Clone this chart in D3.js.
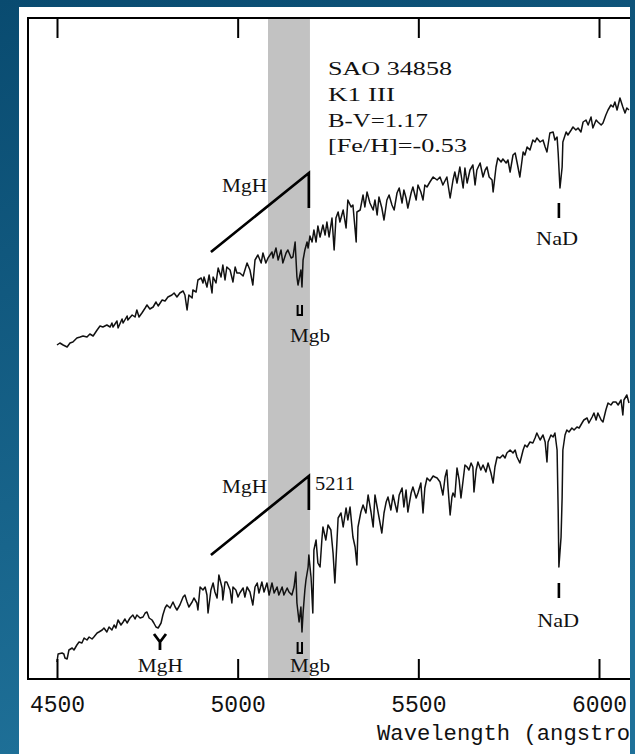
<!DOCTYPE html>
<html><head><meta charset="utf-8">
<script src="https://cdn.jsdelivr.net/npm/d3@7"></script>
<style>html,body{margin:0;padding:0;background:#0b5176;} svg{display:block}</style>
</head><body>
<svg id="c" width="635" height="754"></svg>
<script>
// ---------------- DATA ----------------
const tickValues = [4500, 5000, 5500, 6000];
const xLabel = "Wavelength (angstroms)";
const starInfo = ["SAO 34858", "K1 III", "B-V=1.17", "[Fe/H]=-0.53"];
const bandRange = [5084, 5200];           // shaded MgH/Mgb window (angstrom)
const mgbWave = 5172, nadWave = 5889, mghBandWave = 4785;
const mghSlopeWave = [4926, 5197];

const topWave = [4500,4508,4517,4528,4536,4544,4555,4564,4572,4583,4591,4600,4611,4619,4627,4638,4647,4652,4655,4666,4669,4680,4683,4694,4696,4708,4716,4721,4727,4735,4744,4749,4757,4766,4774,4780,4791,4799,4807,4818,4824,4832,4840,4849,4854,4860,4865,4874,4876,4885,4890,4899,4904,4907,4915,4921,4929,4932,4940,4946,4954,4959,4965,4970,4979,4987,4993,4998,5006,5015,5026,5034,5042,5048,5056,5065,5070,5078,5084,5095,5098,5106,5112,5120,5125,5134,5139,5148,5153,5159,5164,5167,5175,5178,5181,5186,5192,5195,5200,5206,5211,5217,5222,5228,5236,5242,5247,5253,5261,5267,5272,5278,5283,5292,5300,5305,5314,5319,5328,5330,5339,5347,5352,5358,5366,5375,5380,5386,5391,5399,5405,5413,5419,5427,5433,5441,5447,5455,5460,5466,5471,5480,5485,5494,5499,5507,5513,5518,5524,5532,5541,5552,5560,5568,5579,5588,5596,5601,5607,5615,5624,5629,5635,5643,5651,5657,5662,5671,5679,5685,5690,5696,5704,5707,5715,5720,5729,5734,5743,5748,5754,5762,5768,5773,5781,5790,5795,5801,5809,5817,5823,5828,5837,5845,5851,5856,5864,5873,5878,5884,5887,5892,5898,5900,5909,5914,5923,5928,5936,5942,5950,5956,5964,5970,5978,5983,5992,5997,6006,6011,6019,6025,6033,6039,6044,6050,6058,6066,6072,6077,6083];
const topFlux = [3.34,3.36,3.34,3.32,3.36,3.37,3.41,3.42,3.43,3.42,3.45,3.43,3.49,3.53,3.52,3.54,3.52,3.56,3.52,3.58,3.51,3.60,3.56,3.63,3.59,3.64,3.62,3.69,3.62,3.66,3.71,3.74,3.70,3.72,3.77,3.73,3.79,3.78,3.82,3.84,3.86,3.82,3.86,3.88,3.84,3.69,3.84,3.81,3.89,3.87,3.99,4.01,3.96,4.02,3.92,4.04,3.86,4.02,3.96,4.11,4.02,4.14,3.99,4.12,4.09,3.97,4.12,4.06,4.06,4.03,4.16,4.09,3.94,4.19,4.24,4.16,4.26,4.16,4.21,4.27,4.21,4.31,4.19,4.29,4.16,4.26,4.29,4.21,4.22,4.37,4.02,3.94,4.09,3.92,4.19,4.29,4.37,4.31,4.43,4.37,4.49,4.37,4.53,4.42,4.54,4.44,4.57,4.42,4.61,4.29,4.61,4.67,4.57,4.69,4.51,4.79,4.72,4.74,4.37,4.67,4.69,4.84,4.72,4.87,4.76,4.69,4.79,4.64,4.82,4.71,4.59,4.79,4.84,4.74,4.69,4.86,4.91,4.76,4.89,4.81,4.71,4.86,4.92,4.79,4.94,4.87,4.79,4.94,4.92,4.97,5.02,4.99,5.02,4.94,5.02,4.81,4.99,5.07,4.96,5.12,4.91,5.11,4.96,5.09,5.14,4.94,5.09,5.16,5.02,5.09,5.12,5.02,4.99,4.87,5.12,5.21,5.17,5.20,5.16,5.19,5.07,5.24,5.26,5.17,5.02,5.27,5.24,5.32,5.29,5.39,5.37,5.41,5.37,5.39,5.32,5.27,5.46,5.47,5.39,5.42,5.26,4.91,5.12,5.37,5.47,5.44,5.49,5.52,5.49,5.51,5.47,5.57,5.59,5.54,5.62,5.51,5.59,5.57,5.54,5.56,5.64,5.69,5.74,5.72,5.77,5.69,5.81,5.72,5.66,5.71,5.69];

const botWave = [4500,4503,4514,4519,4522,4528,4533,4542,4547,4555,4561,4569,4575,4583,4589,4597,4602,4611,4616,4625,4630,4638,4644,4652,4658,4663,4669,4677,4683,4688,4694,4702,4710,4716,4721,4730,4738,4744,4749,4755,4763,4768,4774,4780,4788,4793,4799,4804,4813,4821,4827,4832,4840,4849,4854,4860,4865,4874,4879,4887,4890,4896,4904,4910,4915,4918,4926,4932,4937,4943,4948,4957,4959,4965,4970,4979,4984,4987,4995,5001,5006,5015,5020,5026,5034,5042,5048,5054,5059,5067,5073,5081,5087,5095,5101,5109,5114,5123,5128,5137,5142,5150,5156,5161,5164,5170,5175,5178,5181,5186,5189,5195,5197,5203,5208,5211,5217,5222,5228,5233,5236,5244,5250,5258,5264,5269,5275,5278,5286,5292,5300,5305,5311,5319,5325,5330,5333,5341,5347,5355,5361,5369,5375,5380,5386,5394,5399,5405,5411,5416,5424,5430,5435,5441,5447,5455,5460,5466,5471,5480,5485,5494,5499,5507,5513,5518,5524,5532,5541,5546,5552,5560,5568,5574,5579,5582,5588,5593,5596,5601,5607,5613,5618,5624,5629,5635,5640,5646,5651,5654,5660,5665,5673,5679,5687,5693,5701,5707,5712,5718,5726,5734,5740,5745,5754,5762,5768,5773,5781,5790,5795,5801,5809,5817,5823,5828,5837,5845,5851,5856,5859,5867,5873,5878,5884,5887,5889,5895,5898,5900,5906,5911,5917,5925,5931,5939,5945,5953,5958,5967,5972,5981,5986,5992,5997,6006,6011,6019,6025,6033,6039,6047,6053,6061,6066,6069,6077,6083];
const botFlux = [0.17,0.25,0.26,0.25,0.21,0.20,0.29,0.31,0.29,0.34,0.37,0.36,0.41,0.39,0.42,0.40,0.42,0.46,0.47,0.49,0.51,0.47,0.52,0.49,0.54,0.51,0.59,0.54,0.57,0.60,0.56,0.61,0.64,0.60,0.64,0.61,0.62,0.66,0.67,0.61,0.59,0.56,0.52,0.51,0.56,0.64,0.71,0.74,0.71,0.77,0.72,0.69,0.74,0.82,0.84,0.77,0.72,0.77,0.81,0.76,0.69,0.92,0.89,0.92,0.84,0.66,0.89,0.96,0.87,0.81,1.04,0.91,0.79,0.97,0.97,0.89,0.76,0.92,0.89,0.82,0.86,0.91,0.82,0.92,0.87,0.74,0.92,0.96,0.86,0.97,0.87,0.96,0.84,0.96,0.86,0.92,0.84,0.92,0.84,0.91,0.87,0.84,0.92,1.07,0.76,0.57,0.72,0.47,0.66,0.89,0.99,1.12,1.24,1.02,0.66,1.29,1.39,1.16,1.12,1.39,1.52,1.39,1.54,1.49,1.26,0.96,1.39,1.61,1.66,1.52,1.71,1.59,1.72,1.42,1.32,1.14,1.52,1.67,1.74,1.66,1.84,1.67,1.52,1.84,1.72,1.56,1.46,1.66,1.77,1.82,1.69,1.84,1.76,1.67,1.84,1.91,1.72,1.89,1.67,1.86,1.92,1.81,1.86,1.96,1.66,1.91,2.01,1.98,2.03,2.02,2.01,1.97,1.84,2.02,2.09,1.92,1.64,1.82,1.86,1.82,2.11,1.99,1.81,1.99,2.14,2.12,2.09,2.16,2.12,1.87,2.09,2.17,2.09,2.14,2.07,2.16,2.06,1.96,2.12,2.22,2.21,2.24,2.21,2.26,2.29,2.26,2.29,2.22,2.16,2.29,2.34,2.32,2.37,2.36,2.41,2.46,2.39,2.44,2.37,2.17,2.37,2.44,2.42,2.46,2.29,1.69,1.12,1.42,1.82,2.29,2.44,2.49,2.47,2.51,2.49,2.52,2.51,2.56,2.59,2.61,2.56,2.62,2.66,2.59,2.66,2.59,2.57,2.69,2.76,2.74,2.77,2.77,2.74,2.79,2.64,2.79,2.84,2.76];

// ---------------- LAYOUT ----------------
const W = 635, H = 754;
const panel = {x: 19, y: 7, w: 611, h: 747};
const frame = {left: 28, top: 18, bottom: 679, right: 680};
const x = d3.scaleLinear().domain([4500, 6000]).range([57, 599]);
const y = d3.scaleLinear().domain([0, 6.61]).range([frame.bottom, frame.top]);

const svg = d3.select("#c");
const defs = svg.append("defs");
const grad = defs.append("linearGradient").attr("id", "bg")
  .attr("x1", 0).attr("y1", 0).attr("x2", 0.25).attr("y2", 1);
grad.append("stop").attr("offset", "0%").attr("stop-color", "#094b70");
grad.append("stop").attr("offset", "100%").attr("stop-color", "#1f7199");
defs.append("clipPath").attr("id", "clip").append("rect")
  .attr("x", panel.x).attr("y", panel.y).attr("width", panel.w).attr("height", panel.h);

svg.append("rect").attr("width", W).attr("height", H).attr("fill", "url(#bg)");
svg.append("rect").attr("x", panel.x).attr("y", panel.y)
  .attr("width", panel.w).attr("height", panel.h).attr("fill", "#ffffff");

const g = svg.append("g").attr("clip-path", "url(#clip)");

// shaded band
g.append("rect")
  .attr("x", x(bandRange[0])).attr("width", x(bandRange[1]) - x(bandRange[0]))
  .attr("y", frame.top).attr("height", frame.bottom - frame.top)
  .attr("fill", "#c2c2c2");

// spectra
const line = d3.line().x(d => x(d[0])).y(d => y(d[1]));
[[topWave, topFlux], [botWave, botFlux]].forEach(([w, f]) => {
  g.append("path").datum(d3.zip(w, f))
    .attr("d", line).attr("fill", "none")
    .attr("stroke", "#111").attr("stroke-width", 1.5).attr("stroke-linejoin", "round");
});

// frame
const fr = g.append("g").attr("stroke", "#000").attr("stroke-width", 2).attr("fill", "none");
fr.append("path").attr("d", `M${frame.right},${frame.top}H${frame.left}V${frame.bottom}H${frame.right}`);

// axes
const axB = g.append("g").attr("transform", `translate(0,${frame.bottom})`)
  .call(d3.axisBottom(x).tickValues(tickValues).tickSize(-20).tickPadding(17).tickFormat(d3.format("d")));
const axT = g.append("g").attr("transform", `translate(0,${frame.top})`)
  .call(d3.axisTop(x).tickValues(tickValues).tickSize(-20).tickFormat(""));
[axB, axT].forEach(a => {
  a.select(".domain").remove();
  a.selectAll(".tick line").attr("stroke", "#000").attr("stroke-width", 2);
});
axB.selectAll(".tick text").attr("font-family", "Liberation Mono, monospace")
  .attr("font-size", 23).attr("fill", "#111");

g.append("text").attr("x", 377).attr("y", 740)
  .attr("font-family", "Liberation Mono, monospace").attr("font-size", 22.2)
  .attr("fill", "#111").text(xLabel);

// annotations
const ann = g.append("g").attr("stroke", "#000").attr("fill", "none").attr("stroke-linecap", "butt");
function mgh(f0, f1, f2) {
  ann.append("path").attr("stroke-width", 2.7)
    .attr("d", `M${x(mghSlopeWave[0])},${y(f0)}L${x(mghSlopeWave[1])},${y(f1)}V${y(f2)}`);
}
mgh(4.27, 5.06, 4.71);
mgh(1.24, 2.03, 1.69);
function ushape(fTop, fBot) {
  const cx = x(mgbWave);
  ann.append("path").attr("stroke-width", 2)
    .attr("d", `M${cx - 2.2},${y(fTop)}V${y(fBot)}H${cx + 2.2}V${y(fTop)}`);
}
ushape(3.74, 3.64);
ushape(0.37, 0.26);
function tick(wv, f0, f1) {
  ann.append("line").attr("stroke-width", 2.6)
    .attr("x1", x(wv)).attr("x2", x(wv)).attr("y1", y(f0)).attr("y2", y(f1));
}
tick(nadWave, 4.76, 4.61);
tick(nadWave, 0.96, 0.81);
{
  const cx = x(mghBandWave);
  ann.append("path").attr("stroke-width", 2.8)
    .attr("d", `M${cx - 6},${y(0.45)}L${cx},${y(0.37)}L${cx + 6},${y(0.45)}M${cx},${y(0.37)}V${y(0.29)}`);
}

const labels = [
  {t: "MgH", w: 4957, f: 4.87, a: "start", len: 45},
  {t: "Mgb", w: 5145, f: 3.37, a: "start", len: 40},
  {t: "NaD", w: 5884, f: 4.34, a: "middle", len: 42},
  {t: "MgH", w: 4957, f: 1.86, a: "start", len: 45},
  {t: "5211", w: 5214, f: 1.89, a: "start", len: 40},
  {t: "MgH", w: 4786, f: 0.07, a: "middle", len: 45},
  {t: "Mgb", w: 5145, f: 0.07, a: "start", len: 40},
  {t: "NaD", w: 5887, f: 0.52, a: "middle", len: 42}
];
g.append("g").selectAll("text").data(labels).join("text")
  .attr("x", d => x(d.w)).attr("y", d => y(d.f))
  .attr("text-anchor", d => d.a)
  .attr("font-family", "Liberation Serif, serif").attr("font-size", 19)
  .attr("fill", "#111")
  .attr("textLength", d => d.len).attr("lengthAdjust", "spacingAndGlyphs")
  .text(d => d.t);

const infoF = [6.04, 5.78, 5.52, 5.27];
const infoLen = [124, 67, 100, 139];
g.append("g").selectAll("text").data(starInfo).join("text")
  .attr("x", x(5250)).attr("y", (d, i) => y(infoF[i]))
  .attr("font-family", "Liberation Serif, serif").attr("font-size", 18.5)
  .attr("fill", "#111")
  .attr("textLength", (d, i) => infoLen[i]).attr("lengthAdjust", "spacingAndGlyphs")
  .text(d => d);
</script>
</body></html>
